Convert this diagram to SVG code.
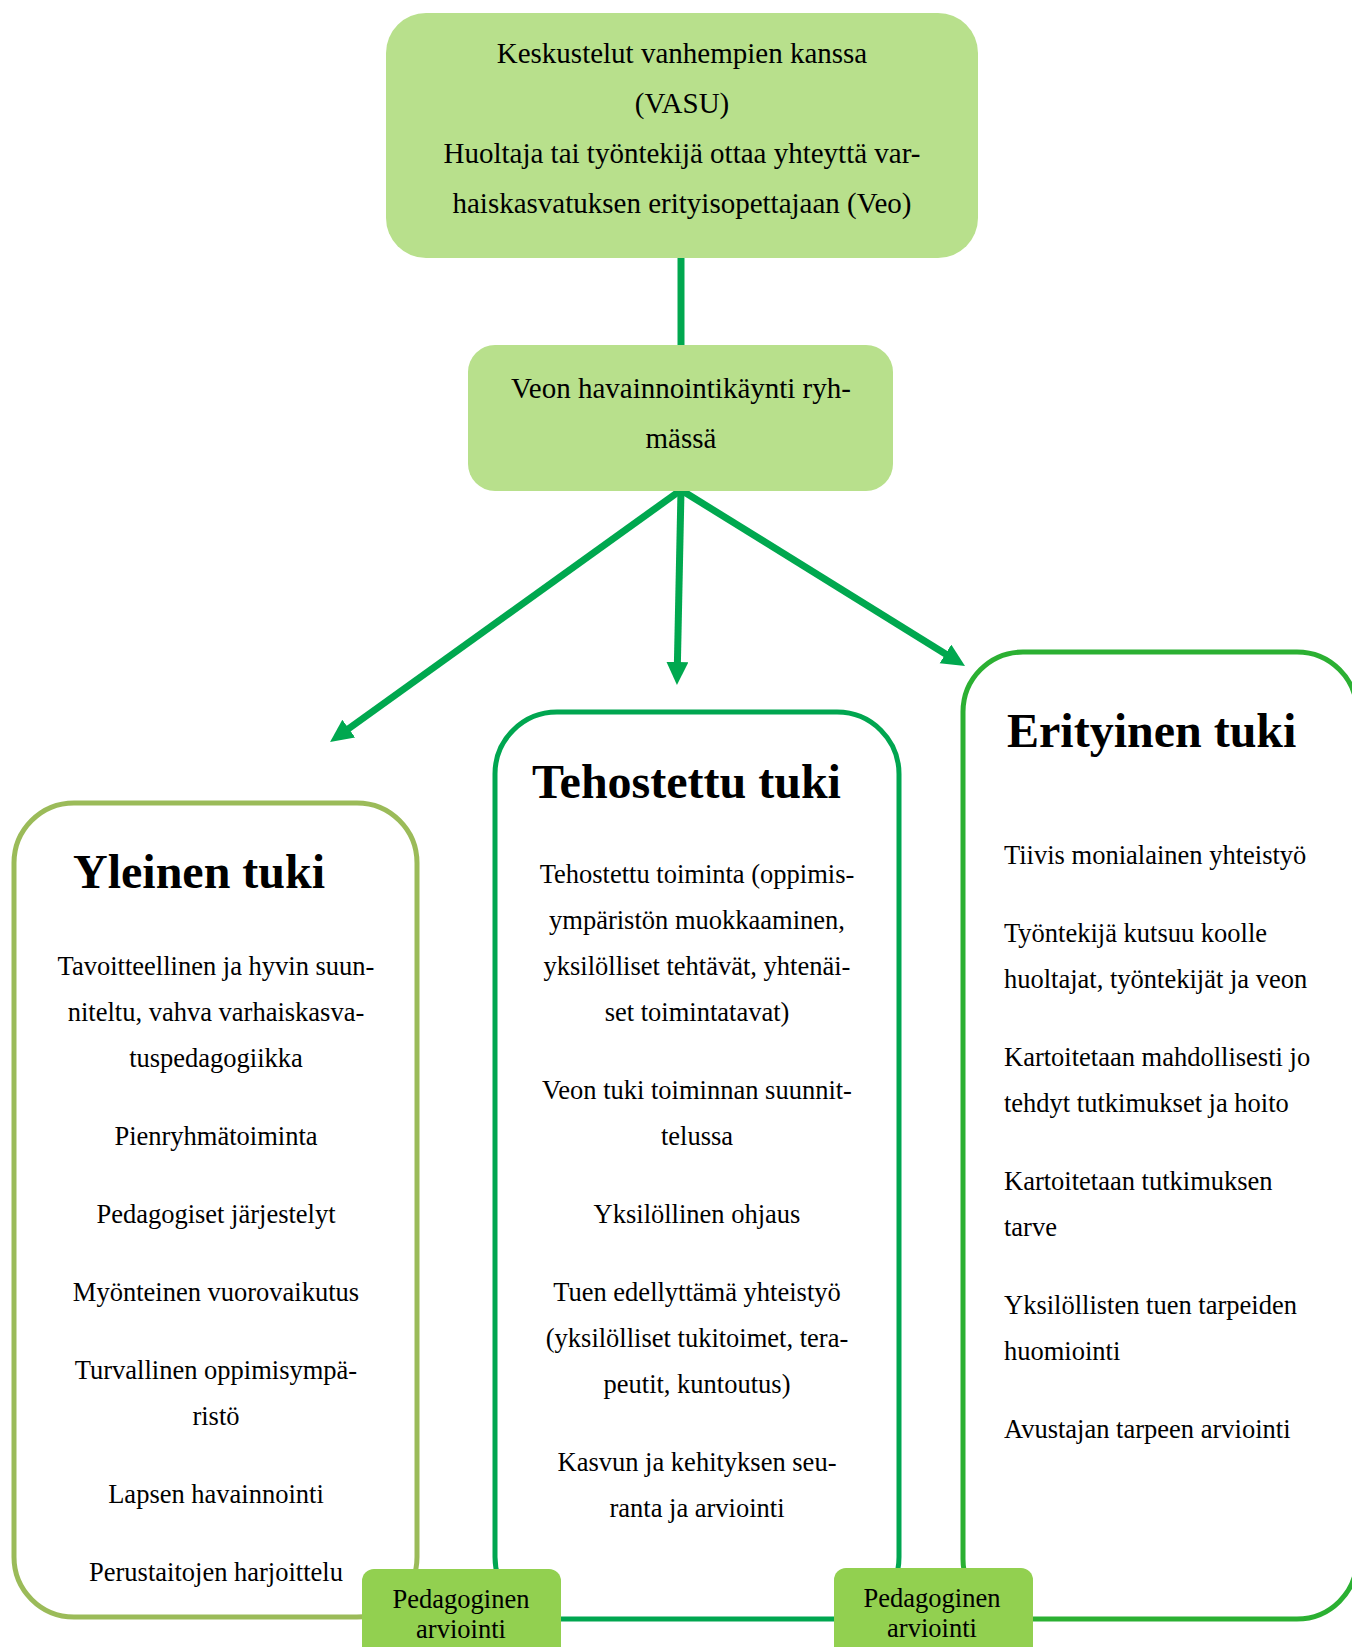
<svg xmlns="http://www.w3.org/2000/svg" width="1352" height="1647" viewBox="0 0 1352 1647">
<style>
  .bg { fill: #ffffff; }
  .lightbox { fill: #b8e08c; stroke: none; }
  .pedbox { fill: #92d050; stroke: none; }
  .col { fill: #ffffff; stroke-width: 5; }
  .t29 { font-family: "Liberation Serif", "Times New Roman", serif; font-size: 29px; fill: #000; text-anchor: middle; }
  .t26 { font-family: "Liberation Serif", "Times New Roman", serif; font-size: 26.5px; fill: #000; }
  .mid { text-anchor: middle; }
  .title { font-family: "Liberation Serif", "Times New Roman", serif; font-size: 48px; font-weight: bold; fill: #000; }
  .conn { stroke: #00a84f; stroke-width: 7; fill: none; }
</style>
<defs>
  <marker id="arr" markerUnits="userSpaceOnUse" markerWidth="24" markerHeight="23" refX="11" refY="11" orient="auto">
    <path d="M0,0 L23,11 L0,22 z" fill="#00a84f"/>
  </marker>
</defs>
<rect class="bg" x="0" y="0" width="1352" height="1647"/>

<g id="connectors">
  <line class="conn" x1="681" y1="257" x2="681" y2="346"/>
  <line class="conn" x1="681" y1="490" x2="339.8" y2="735" marker-end="url(#arr)"/>
  <line class="conn" x1="681" y1="490" x2="677.2" y2="673" marker-end="url(#arr)"/>
  <line class="conn" x1="681" y1="490" x2="954.8" y2="659.7" marker-end="url(#arr)"/>
</g>

<g id="node-top">
  <rect class="lightbox" x="386" y="13" width="592" height="245" rx="40" ry="40"/>
  <text class="t29" x="682" y="63">Keskustelut vanhempien kanssa</text>
  <text class="t29" x="682" y="113">(VASU)</text>
  <text class="t29" x="682" y="163">Huoltaja tai työntekijä ottaa yhteyttä var-</text>
  <text class="t29" x="682" y="213">haiskasvatuksen erityisopettajaan (Veo)</text>
</g>

<g id="node-veo">
  <rect class="lightbox" x="468" y="345" width="425" height="146" rx="27" ry="27"/>
  <text class="t29" x="681" y="398">Veon havainnointikäynti ryh-</text>
  <text class="t29" x="681" y="448">mässä</text>
</g>

<g id="node-yleinen">
  <rect class="col" stroke="#9bbb59" x="14" y="803" width="403" height="814" rx="60" ry="60"/>
  <text class="title" x="73" y="888">Yleinen tuki</text>
  <g class="t26 mid">
    <text x="216" y="975">Tavoitteellinen ja hyvin suun-</text>
    <text x="216" y="1021">niteltu, vahva varhaiskasva-</text>
    <text x="216" y="1067">tuspedagogiikka</text>
    <text x="216" y="1145">Pienryhmätoiminta</text>
    <text x="216" y="1223">Pedagogiset järjestelyt</text>
    <text x="216" y="1301">Myönteinen vuorovaikutus</text>
    <text x="216" y="1379">Turvallinen oppimisympä-</text>
    <text x="216" y="1425">ristö</text>
    <text x="216" y="1503">Lapsen havainnointi</text>
    <text x="216" y="1581">Perustaitojen harjoittelu</text>
  </g>
</g>

<g id="node-tehostettu">
  <rect class="col" stroke="#00a650" x="495" y="712" width="404" height="907" rx="62" ry="62"/>
  <text class="title" x="532" y="798">Tehostettu tuki</text>
  <g class="t26 mid">
    <text x="697" y="883">Tehostettu toiminta (oppimis-</text>
    <text x="697" y="929">ympäristön muokkaaminen,</text>
    <text x="697" y="975">yksilölliset tehtävät, yhtenäi-</text>
    <text x="697" y="1021">set toimintatavat)</text>
    <text x="697" y="1099">Veon tuki toiminnan suunnit-</text>
    <text x="697" y="1145">telussa</text>
    <text x="697" y="1223">Yksilöllinen ohjaus</text>
    <text x="697" y="1301">Tuen edellyttämä yhteistyö</text>
    <text x="697" y="1347">(yksilölliset tukitoimet, tera-</text>
    <text x="697" y="1393">peutit, kuntoutus)</text>
    <text x="697" y="1471">Kasvun ja kehityksen seu-</text>
    <text x="697" y="1517">ranta ja arviointi</text>
  </g>
</g>

<g id="node-erityinen">
  <rect class="col" stroke="#2bb032" x="963" y="652" width="394" height="967" rx="60" ry="60"/>
  <text class="title" x="1007" y="747">Erityinen tuki</text>
  <g class="t26">
    <text x="1004" y="864">Tiivis monialainen yhteistyö</text>
    <text x="1004" y="942">Työntekijä kutsuu koolle</text>
    <text x="1004" y="988">huoltajat, työntekijät ja veon</text>
    <text x="1004" y="1066">Kartoitetaan mahdollisesti jo</text>
    <text x="1004" y="1112">tehdyt tutkimukset ja hoito</text>
    <text x="1004" y="1190">Kartoitetaan tutkimuksen</text>
    <text x="1004" y="1236">tarve</text>
    <text x="1004" y="1314">Yksilöllisten tuen tarpeiden</text>
    <text x="1004" y="1360">huomiointi</text>
    <text x="1004" y="1438">Avustajan tarpeen arviointi</text>
  </g>
</g>

<g id="node-ped1">
  <rect class="pedbox" x="362" y="1569" width="199" height="100" rx="12" ry="12"/>
  <text class="t26 mid" x="461" y="1608">Pedagoginen</text>
  <text class="t26 mid" x="461" y="1638">arviointi</text>
</g>

<g id="node-ped2">
  <rect class="pedbox" x="834" y="1568" width="199" height="100" rx="12" ry="12"/>
  <text class="t26 mid" x="932" y="1607">Pedagoginen</text>
  <text class="t26 mid" x="932" y="1637">arviointi</text>
</g>
</svg>
